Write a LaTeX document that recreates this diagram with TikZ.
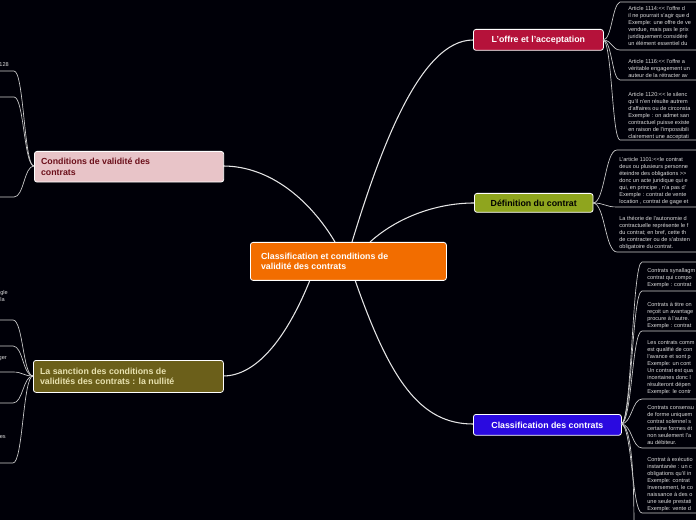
\documentclass[tikz,border=0pt]{standalone}
\usepackage{fontspec}
\setmainfont{Liberation Sans}
\newcommand{\myll}{\textless\kern0pt\textless}
\newcommand{\mygg}{\textgreater\kern0pt\textgreater}
\begin{document}
\begin{tikzpicture}[x=0.75pt,y=-0.75pt,
  txt/.style={anchor=north west,align=left,inner sep=0pt,text=white!85!black,font=\fontsize{4.2}{5.3}\selectfont},
  br/.style={draw=white!80!black,line width=0.5pt},
  mainl/.style={draw=white!90!black,line width=0.8pt},
  topic/.style={rounded corners=2pt,draw=white,line width=0.6pt,anchor=north west,align=left,font=\bfseries\fontsize{6.6}{8}\selectfont,inner sep=0pt}]
\fill[black!97!blue] (0,0) rectangle (696,520);
\clip (0,0) rectangle (696,520);
% main connectors
\draw[mainl] (352,242) .. controls (380,150) and (420,40) .. (473,40);
\draw[mainl] (370,242) .. controls (400,215) and (440,203) .. (474,203);
\draw[mainl] (355,280) .. controls (390,380) and (420,424) .. (473,424);
\draw[mainl] (335,242) .. controls (310,200) and (270,166) .. (223,166);
\draw[mainl] (310,280) .. controls (290,330) and (260,376) .. (223,376);
% nodes
\node[topic,fill=orange!90!red!95!black,text=white] (c) at (250,242) {\begin{minipage}[c][28.5pt]{147pt}\hspace*{8pt}Classification et conditions de\\\hspace*{8pt}validité des contrats\end{minipage}};
\node[topic,fill={rgb,255:red,181;green,18;blue,58},text=white] (o) at (473,29) {\begin{minipage}[c][15.7pt]{97.5pt}\centering L’offre et l’acceptation\end{minipage}};
\node[topic,fill={rgb,255:red,143;green,165;blue,30},text=black] (d) at (474,193) {\begin{minipage}[c][14.2pt]{89pt}\centering Définition du contrat\end{minipage}};
\node[topic,fill={rgb,255:red,42;green,10;blue,224},text=white] (k) at (473,414) {\begin{minipage}[c][15.7pt]{111pt}\centering Classification des contrats\end{minipage}};
\node[topic,fill={rgb,255:red,232;green,196;blue,200},text={rgb,255:red,107;green,15;blue,26}] (p) at (34,151) {\begin{minipage}[c][23pt]{142pt}\hspace*{5pt}Conditions de validité des\\\hspace*{5pt}contrats\end{minipage}};
\node[topic,fill={rgb,255:red,107;green,95;blue,26},text={rgb,255:red,232;green,226;blue,176}] (s) at (33,360) {\begin{minipage}[c][24pt]{142.5pt}\hspace*{5pt}La sanction des conditions de\\\hspace*{5pt}validités des contrats : la nullité\end{minipage}};
% right brackets
\foreach \y in {50,80,140}{\draw[br] (603,40) .. controls (612,40) and (612,\y) .. (620,\y) -- (700,\y);}
\draw[br] (603,40) .. controls (612,40) and (612,5) .. (620,2) -- (700,2);
\foreach \y in {207,252}{\draw[br] (593,203) .. controls (605,203) and (605,\y) .. (617,\y) -- (700,\y);}
\draw[br] (593,203) .. controls (605,203) and (605,150) .. (617,150) -- (700,150);
\foreach \y in {291,331,399,448,513}{\draw[br] (621,424) .. controls (632,424) and (632,\y) .. (642,\y) -- (700,\y);}
\draw[br] (621,424) .. controls (632,424) and (632,262) .. (642,262) -- (700,262);
\draw[br] (621,424) .. controls (632,424) and (634,480) .. (634,530);
% left brackets
\foreach \y in {71,97,197}{\draw[br] (34,166) .. controls (24,166) and (24,\y) .. (14,\y) -- (-5,\y);}
\foreach \y in {320,346,372,403,463}{\draw[br] (33,376) .. controls (23,376) and (23,\y) .. (13,\y) -- (-5,\y);}
% texts right
\node[txt] (t1) at (628,6) {Article 1114:\myll{} l'offre d\\il ne pourrait s'agir que d\\Exemple: une offre de ve\\vendue, mais pas le prix\\juridiquement considéré\\un élément essentiel du};
\node[txt] (t2) at (628,59) {Article 1116:\myll{} l'offre a\\véritable engagement un\\auteur de la rétracter av};
\node[txt] (t3) at (628,92) {Article 1120:\myll{} le silenc\\qu'il n'en résulte autrem\\d'affaires ou de circonsta\\Exemple : on admet san\\contractuel puisse existe\\en raison de l'impossibili\\clairement une acceptati};
\node[txt] (t4) at (619,157) {L'article 1101:\myll{}le contrat\\deux ou plusieurs personne\\éteindre des obligations \mygg\\donc un acte juridique qui e\\qui, en principe , n'a pas d'\\Exemple : contrat de vente\\location , contrat de gage et};
\node[txt] (t5) at (619,216) {La théorie de l'autonomie d\\contractuelle représente le f\\du contrat; en bref, cette th\\de contracter ou de s'absten\\obligatoire du contrat.};
\node[txt] (t6) at (647,268) {Contrats synallagm\\contrat qui compo\\Exemple : contrat};
\node[txt] (t7) at (647,302) {Contrats à titre on\\reçoit un avantage\\procure à l'autre.\\Exemple : contrat};
\node[txt] (t8) at (647,340) {Les contrats comm\\est qualifié de con\\l'avance et sont p\\Exemple: un cont\\Un contrat est qua\\incertaines donc l\\résulteront dépen\\Exemple: le contr};
\node[txt] (t9) at (647,405) {Contrats consensu\\de forme uniquem\\contrat solennel s\\certaine formes ét\\non seulement l'a\\au débiteur.};
\node[txt] (t10) at (647,457) {Contrat à exécutio\\instantanée : un c\\obligations qu'il in\\Exemple: contrat\\Inversement, le co\\naissance à des o\\une seule prestati\\Exemple: vente d};
% texts left
\node[txt,anchor=north east] (l1) at (9,62) {128};
\node[txt,anchor=north east] (l2) at (8,290) {gle\\la};
\node[txt,anchor=north east] (l3) at (7,356) {ger};
\node[txt,anchor=north east] (l4) at (6,435) {es};
\end{tikzpicture}
\end{document}
